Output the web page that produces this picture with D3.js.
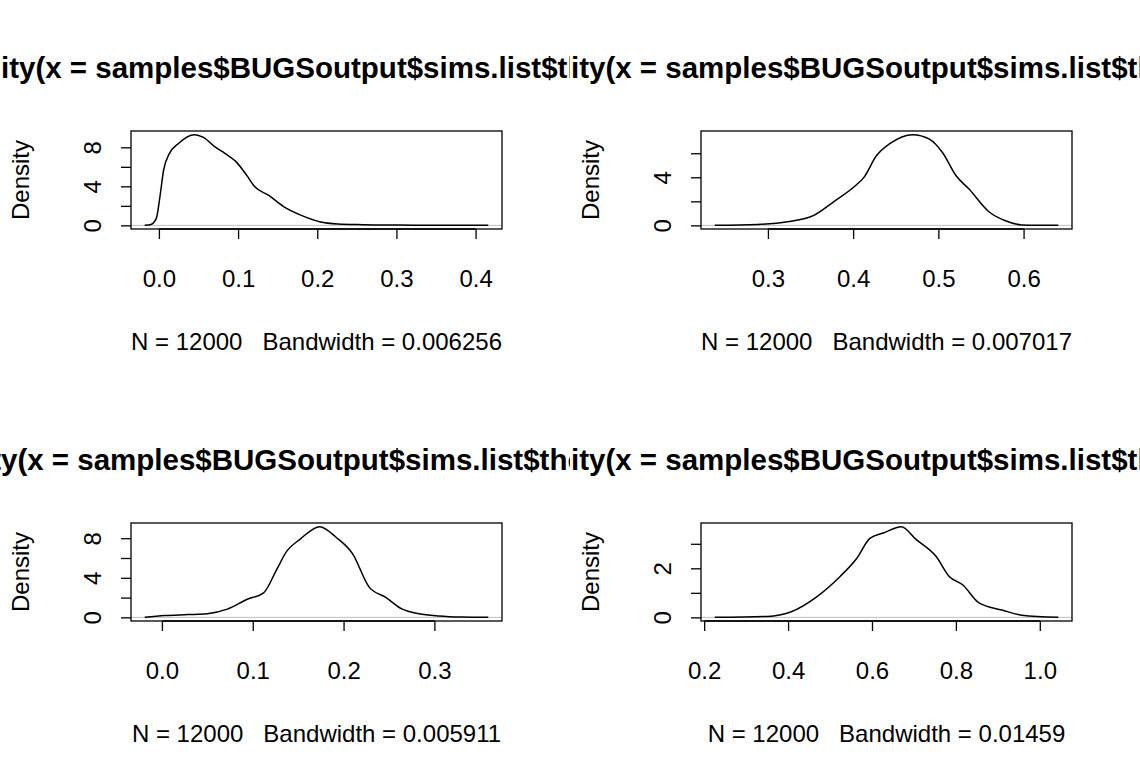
<!DOCTYPE html>
<html><head><meta charset="utf-8">
<script src="https://cdn.jsdelivr.net/npm/d3@7"></script>
<style>body{margin:0;background:#fff} text{white-space:pre}</style></head>
<body><svg id="c" width="1140" height="784"></svg>
<script>
const titleText = "density(x = samples$BUGSoutput$sims.list$theta)";
const hiddenPrefix = ["dens","dens","densit","dens"];
const subtitles = ["N = 12000   Bandwidth = 0.006256","N = 12000   Bandwidth = 0.007017",
                   "N = 12000   Bandwidth = 0.005911","N = 12000   Bandwidth = 0.01459"];
const xTicks = [[0.0,0.1,0.2,0.3,0.4],[0.3,0.4,0.5,0.6],[0.0,0.1,0.2,0.3],[0.2,0.4,0.6,0.8,1.0]];
const xTickLabels = [["0.0","0.1","0.2","0.3","0.4"],["0.3","0.4","0.5","0.6"],["0.0","0.1","0.2","0.3"],["0.2","0.4","0.6","0.8","1.0"]];
const yTicks = [[0,2,4,6,8],[0,2,4,6],[0,2,4,6,8],[0,1,2,3]];
const yTickLabels = [["0","","4","","8"],["0","","4",""],["0","","4","","8"],["0","","2",""]];
const densX1 = [-0.0179,-0.010,-0.0032,0.0014,0.0060,0.0128,0.0243,0.0449,0.0563,0.070,0.0838,0.0976,0.111,0.1205,0.1388,0.157,0.180,0.203,0.226,0.258,0.304,0.350,0.416];
const densY1 = [0,0.09,0.74,3.0,5.7,7.3,8.37,9.3,9.02,8.09,7.35,6.51,5.12,4.0,3.07,1.95,1.02,0.37,0.14,0.07,0.03,0.01,0];
const densX2 = [0.2376,0.288,0.3229,0.3539,0.3771,0.4043,0.412,0.4275,0.443,0.470,0.4895,0.505,0.5206,0.536,0.5593,0.5787,0.598,0.6407];
const densY2 = [0,0.08,0.3,0.83,1.96,3.4,3.93,5.81,6.8,7.55,7.17,6.04,4.15,3.02,1.13,0.38,0.04,0];
const densX3 = [-0.0189,0.003,0.0284,0.05,0.072,0.094,0.112,0.1265,0.1375,0.152,0.1738,0.192,0.210,0.2284,0.2465,0.2647,0.283,0.3047,0.330,0.3593];
const densY3 = [0,0.18,0.28,0.37,0.83,1.83,2.48,4.86,6.69,7.89,9.17,8.07,6.42,3.03,2.02,0.83,0.37,0.14,0.03,0];
const densX4 = [0.2252,0.351,0.406,0.469,0.524,0.564,0.595,0.627,0.670,0.705,0.753,0.784,0.816,0.855,0.910,0.957,1.044];
const densY4 = [0,0.04,0.22,0.85,1.67,2.41,3.22,3.44,3.70,3.18,2.48,1.67,1.33,0.59,0.30,0.09,0];
const densX = [densX1,densX2,densX3,densX4], densY = [densY1,densY2,densY3,densY4];

const svg = d3.select("#c");
const F = "Liberation Sans, Arial, sans-serif";
const TS = 29.5, LS = 24;
const panels = [{ox:0,oy:0},{ox:570,oy:0},{ox:0,oy:392},{ox:570,oy:392}];
const meas = svg.append("text").attr("font-family",F).attr("font-weight","bold").attr("font-size",TS);
function tw(s){meas.text(s);return meas.node().getComputedTextLength();}

panels.forEach((p,i)=>{
  const L=p.ox+131, R=p.ox+502, T=p.oy+131, B=p.oy+229;
  const xs=densX[i], ys=densY[i];
  const xr=d3.extent(xs), yM=d3.max(ys), xw=xr[1]-xr[0];
  const x=d3.scaleLinear().domain([xr[0]-0.04*xw,xr[1]+0.04*xw]).range([L,R]);
  const y=d3.scaleLinear().domain([-0.04*yM,1.04*yM]).range([B,T]);
  const g=svg.append("g");
  const cid="clip"+i;
  svg.append("clipPath").attr("id",cid).append("rect").attr("x",p.ox).attr("y",p.oy).attr("width",570).attr("height",392);
  g.append("text").attr("clip-path",`url(#${cid})`).attr("x",p.ox+1-tw(hiddenPrefix[i])).attr("y",p.oy+78)
    .attr("font-family",F).attr("font-weight","bold").attr("font-size",TS).text(titleText);
  g.append("line").attr("x1",L).attr("x2",R).attr("y1",y(0)).attr("y2",y(0)).attr("stroke","#bebebe").attr("stroke-width",1);
  g.append("path").datum(xs.map((v,k)=>[v,ys[k]])).attr("fill","none").attr("stroke","#000").attr("stroke-width",1.5)
    .attr("d",d3.line().x(d=>x(d[0])).y(d=>y(d[1])).curve(d3.curveMonotoneX));
  g.append("rect").attr("x",L).attr("y",T).attr("width",R-L).attr("height",B-T).attr("fill","none").attr("stroke","#000").attr("stroke-width",1.3);
  const xa=g.append("g").attr("transform",`translate(0,${B})`).call(d3.axisBottom(x).tickValues(xTicks[i]).tickFormat((d,k)=>xTickLabels[i][k]).tickSize(10).tickPadding(31));
  const ya=g.append("g").attr("transform",`translate(${L},0)`).call(d3.axisLeft(y).tickValues(yTicks[i]).tickFormat((d,k)=>yTickLabels[i][k]).tickSize(10));
  [xa,ya].forEach(a=>{a.selectAll("path").attr("stroke","#000").attr("stroke-width",1.3).attr("d",null);
    a.selectAll("line").attr("stroke","#000").attr("stroke-width",1.3);
    a.selectAll("text").attr("font-family",F).attr("font-size",LS).attr("fill","#000");});
  const xt=xTicks[i];
  g.append("line").attr("x1",x(xt[0])).attr("x2",x(xt[xt.length-1])).attr("y1",B).attr("y2",B).attr("stroke","#000").attr("stroke-width",1.3);
  ya.selectAll(".tick text").attr("x",null).attr("dy",null).attr("text-anchor","middle").each(function(){
      d3.select(this).attr("transform","translate(-38,0) rotate(-90)").attr("y",0).attr("dy","0.35em");});
  g.append("text").attr("transform",`translate(${p.ox+21},${(T+B)/2}) rotate(-90)`).attr("text-anchor","middle")
    .attr("dy","0.35em").attr("font-family",F).attr("font-size",LS).text("Density");
  g.append("text").attr("x",(L+R)/2).attr("y",p.oy+350).attr("text-anchor","middle").attr("font-family",F).attr("font-size",LS).text(subtitles[i]);
});
meas.remove();
</script></body></html>
